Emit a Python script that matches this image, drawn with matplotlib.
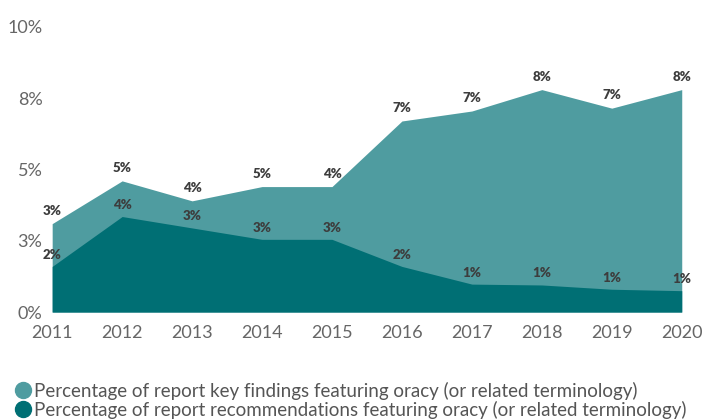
import matplotlib.pyplot as plt
from matplotlib.lines import Line2D

plt.rcParams['font.family'] = ['Lato', 'DejaVu Sans']

# Data
years = [2011, 2012, 2013, 2014, 2015, 2016, 2017, 2018, 2019, 2020]
key_findings = [3.1, 4.6, 3.9, 4.4, 4.4, 6.7, 7.05, 7.8, 7.15, 7.8]
recommendations = [1.6, 3.35, 2.95, 2.55, 2.55, 1.6, 0.98, 0.95, 0.8, 0.75]
key_labels = ["3%", "5%", "4%", "5%", "4%", "7%", "7%", "8%", "7%", "8%"]
rec_labels = ["2%", "4%", "3%", "3%", "3%", "2%", "1%", "1%", "1%", "1%"]
y_ticks = [0, 2.5, 5, 7.5, 10]
y_tick_labels = ["0%", "3%", "5%", "8%", "10%"]

light = "#4f9ca0"
dark = "#006f74"

fig = plt.figure(figsize=(7.05, 4.2), dpi=100)
ax = fig.add_axes([0.074, 0.257, 0.893, 0.679])

ax.fill_between(years, 0, key_findings, color=light, lw=0)
ax.fill_between(years, 0, recommendations, color=dark, lw=0)

# Data labels
for x, y, t in zip(years, key_findings, key_labels):
    ax.annotate(t, (x, y), xytext=(0, 5), textcoords="offset points",
                ha="center", va="bottom", fontsize=9.5, fontweight="heavy", color="#3d3d3d")
for x, y, t in zip(years, recommendations, rec_labels):
    ax.annotate(t, (x, y), xytext=(0, 4), textcoords="offset points",
                ha="center", va="bottom", fontsize=9.5, fontweight="heavy", color="#3d3d3d")

ax.set_xlim(2011, 2020)
ax.set_ylim(0, 10)
ax.set_xticks(years)
ax.set_xticklabels([str(y) for y in years])
ax.set_yticks(y_ticks)
ax.set_yticklabels(y_tick_labels)
ax.tick_params(length=0, labelsize=13, colors="#666666")
ax.tick_params(axis="x", pad=9)
ax.tick_params(axis="y", pad=7)
for s in ax.spines.values():
    s.set_visible(False)

# Legend
handles = [Line2D([], [], marker="o", ls="", markersize=11.5, color=light),
           Line2D([], [], marker="o", ls="", markersize=11.5, color=dark)]
labels = ["Percentage of report key findings featuring oracy (or related terminology)",
          "Percentage of report recommendations featuring oracy (or related terminology)"]
fig.legend(handles, labels, loc="upper left", bbox_to_anchor=(0.006, 0.114),
           frameon=False, fontsize=13.5, labelcolor="#555555",
           handletextpad=0.1, labelspacing=0.05, borderpad=0, handlelength=1.0)

fig.savefig("out.png", dpi=100)
